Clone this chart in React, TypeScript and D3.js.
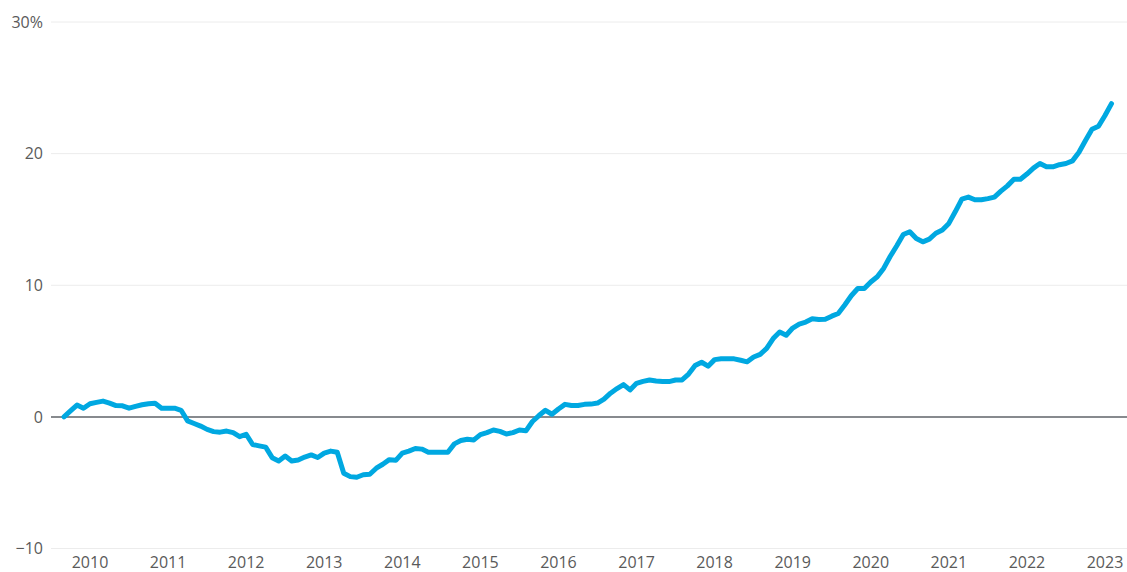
import React from "react";
import * as d3 from "d3";

// Monthly series, starting September 2009
const startYear = 2009;
const startMonth = 9; // September
const values: number[] = [
  // 2009 Sep-Dec
  0, 0.45, 0.9, 0.66,
  // 2010
  1.0, 1.1, 1.2, 1.05, 0.86, 0.84, 0.66, 0.8, 0.92, 1.0, 1.04, 0.66,
  // 2011
  0.66, 0.66, 0.5, -0.3, -0.5, -0.7, -0.95, -1.12, -1.16, -1.08, -1.2, -1.5,
  // 2012
  -1.32, -2.1, -2.2, -2.3, -3.1, -3.35, -2.97, -3.35, -3.27, -3.05, -2.89, -3.09,
  // 2013
  -2.75, -2.6, -2.69, -4.28, -4.54, -4.59, -4.4, -4.36, -3.9, -3.6, -3.25, -3.3,
  // 2014
  -2.75, -2.6, -2.4, -2.45, -2.69, -2.69, -2.69, -2.69, -2.05, -1.8, -1.7, -1.75,
  // 2015
  -1.35, -1.2, -1.0, -1.1, -1.3, -1.2, -1.0, -1.06, -0.35, 0.1, 0.5, 0.2,
  // 2016
  0.6, 0.95, 0.86, 0.86, 0.95, 0.97, 1.05, 1.35, 1.8, 2.15, 2.45, 2.05,
  // 2017
  2.55, 2.7, 2.8, 2.72, 2.68, 2.68, 2.8, 2.81, 3.25, 3.9, 4.15, 3.85,
  // 2018
  4.35, 4.41, 4.41, 4.41, 4.3, 4.18, 4.55, 4.75, 5.2, 5.95, 6.45, 6.2,
  // 2019
  6.75, 7.05, 7.2, 7.45, 7.4, 7.42, 7.65, 7.85, 8.5, 9.2, 9.75, 9.75,
  // 2020
  10.25, 10.65, 11.3, 12.2, 13.0, 13.85, 14.07, 13.55, 13.3, 13.5, 13.95, 14.2,
  // 2021
  14.7, 15.6, 16.55, 16.7, 16.5, 16.5, 16.58, 16.7, 17.15, 17.55, 18.05, 18.05,
  // 2022
  18.45, 18.9, 19.25, 19.0, 19.0, 19.16, 19.25, 19.45, 20.1, 21.0, 21.85, 22.08,
  // 2023 Jan-Feb
  22.9, 23.8,
];

const xTickYears = [2010, 2011, 2012, 2013, 2014, 2015, 2016, 2017, 2018, 2019, 2020, 2021, 2022, 2023];
const yTicks = [-10, 0, 10, 20, 30];
const yTickLabels = ["\u221210", "0", "10", "20", "30%"];

const W = 1127;
const H = 572;

export default function App() {
  const x = d3.scaleLinear().domain([2010, 2023]).range([90, 1105]);
  const y = d3.scaleLinear().domain([-10, 30]).range([548.5, 22]);

  const data = values.map((v, i) => ({
    t: startYear + (startMonth - 1 + i) / 12,
    v,
  }));

  const line = d3
    .line<{ t: number; v: number }>()
    .x((d) => x(d.t))
    .y((d) => y(d.v));

  const font = "'Open Sans', 'Noto Sans', sans-serif";
  const gridLeft = 51;

  return (
    <svg
      width={W}
      height={H}
      style={{ position: "absolute", left: 0, top: 0, display: "block", background: "#fff" }}
    >
      {yTicks.map((t, i) => (
        <g key={t}>
          <line
            x1={gridLeft}
            x2={W}
            y1={y(t)}
            y2={y(t)}
            stroke={t === 0 ? "#5f6368" : "#ececec"}
            strokeWidth={t === 0 ? 1.5 : 1}
          />
          <text
            x={43}
            y={y(t)}
            dy="0.36em"
            textAnchor="end"
            fontFamily={font}
            fontSize={16}
            fill="#5a5a5a"
          >
            {yTickLabels[i]}
          </text>
        </g>
      ))}
      <path
        d={line(data) || ""}
        fill="none"
        stroke="#00a8e1"
        strokeWidth={5}
        strokeLinejoin="round"
        strokeLinecap="round"
      />
      {xTickYears.map((yr) => (
        <text
          key={yr}
          x={x(yr)}
          y={567.5}
          textAnchor="middle"
          fontFamily={font}
          fontSize={16}
          fill="#5a5a5a"
        >
          {yr}
        </text>
      ))}
    </svg>
  );
}
